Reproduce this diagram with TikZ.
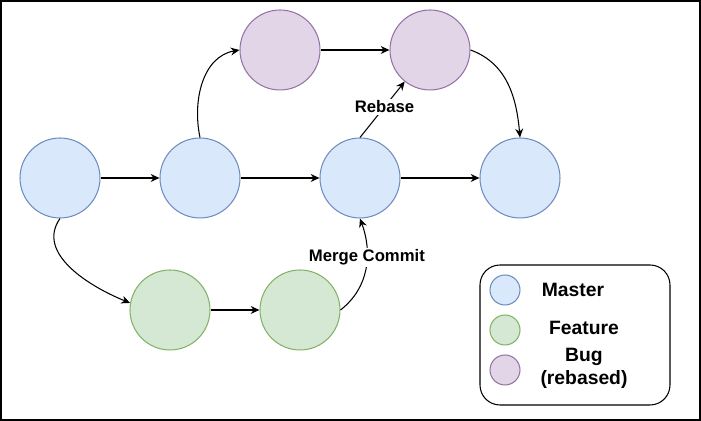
\documentclass[tikz,border=0pt]{standalone}
\usepackage{fontspec}
\setmainfont{Liberation Sans}
\usetikzlibrary{positioning, arrows.meta}

\definecolor{masterfill}{HTML}{DAE8FC}
\definecolor{masterline}{HTML}{6C8EBF}
\definecolor{featurefill}{HTML}{D5E8D4}
\definecolor{featureline}{HTML}{82B366}
\definecolor{bugfill}{HTML}{E1D5E7}
\definecolor{bugline}{HTML}{9673A6}

\begin{document}
\begin{tikzpicture}[
    x=0.02cm, y=0.02cm,
    commit/.style={circle, draw, line width=0.6pt, minimum size=1.6cm, inner sep=0pt},
    master/.style={commit, fill=masterfill, draw=masterline},
    feature/.style={commit, fill=featurefill, draw=featureline},
    bug/.style={commit, fill=bugfill, draw=bugline},
    key/.style={minimum size=0.6cm},
    arrow/.style={-{Stealth[length=5pt, width=4.5pt]}, line width=0.6pt},
    tag/.style={fill=white, inner sep=1pt, font=\fontsize{9.5}{11}\selectfont\bfseries},
    keytext/.style={align=center, font=\fontsize{11}{13}\selectfont\bfseries}
]
    \useasboundingbox (0,0) rectangle (701,421);
    \draw[line width=1.2pt] (1,1) rectangle (700,420);

    % Master branch
    \node[master] (m1) at (60,243) {};
    \node[master] (m2) at (200,243) {};
    \node[master] (m3) at (360,243) {};
    \node[master] (m4) at (520,243) {};

    % Bug branch (rebased)
    \node[bug] (b1) at (280,371) {};
    \node[bug] (b2) at (430,371) {};

    % Feature branch
    \node[feature] (f1) at (170,111) {};
    \node[feature] (f2) at (300,111) {};

    % Arrows
    \draw[arrow] (m1) -- (m2);
    \draw[arrow] (m2) -- (m3);
    \draw[arrow] (m3) -- (m4);
    \draw[arrow] (b1) -- (b2);
    \draw[arrow] (f1) -- (f2);
    \draw[arrow] (m2.north) to[out=102, in=190] (b1.west);
    \draw[arrow] (b2.east) to[out=-20, in=95] (m4.north);
    \draw[arrow] (m3.north) -- node[tag, pos=0.55] {Rebase} (b2);
    \draw[arrow] (m1.south) to[out=-125, in=158] (f1.170);
    \draw[arrow] (f2.east) to[out=38, in=-70] node[tag, pos=0.62] {Merge Commit} (m3.south);

    % Legend
    \draw[line width=0.6pt, rounded corners=0.4cm] (480,16) rectangle (670,156);
    \node[master, key] (kmaster) at (505,131) {};
    \node[feature, key] (kfeature) at (505,91) {};
    \node[bug, key] (kbug) at (505,51) {};
    \node[keytext] (tmaster) at (573,131) {Master};
    \node[keytext] (tfeature) at (584,93) {Feature};
    \node[keytext] (tbug) at (584,53) {Bug\\(rebased)};
\end{tikzpicture}
\end{document}
